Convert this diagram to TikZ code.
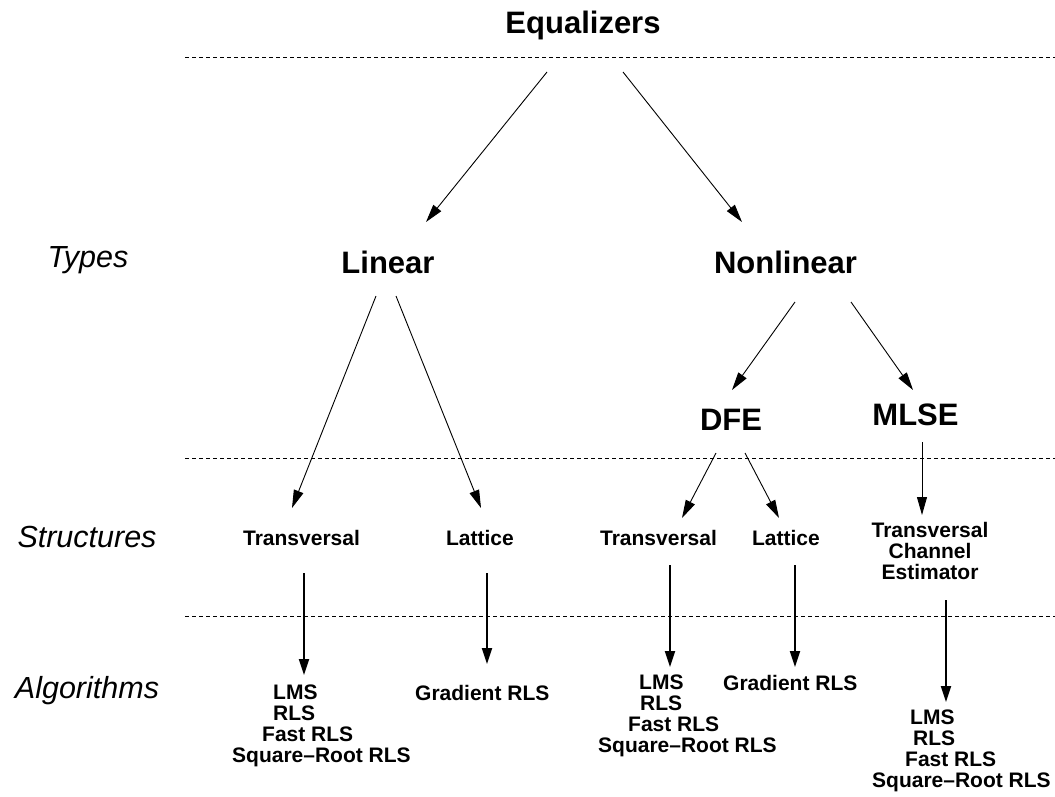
\documentclass[tikz,border=0pt]{standalone}
\usepackage{fontspec}
\setmainfont{Liberation Sans}
\usetikzlibrary{arrows.meta}
\begin{document}
\begin{tikzpicture}[x=1pt,y=-1pt,
  title/.style={font=\fontsize{31}{31}\selectfont\bfseries, inner sep=0pt, anchor=base},
  level/.style={font=\fontsize{30.5}{30.5}\selectfont\itshape, inner sep=0pt, anchor=base},
  struct/.style={font=\fontsize{21}{21}\selectfont\bfseries, inner sep=0pt, anchor=base},
  stack/.style={font=\fontsize{21}{21}\selectfont\bfseries, inner sep=0pt, align=center, anchor=north},
  alg/.style={font=\fontsize{21}{21}\selectfont\bfseries, inner sep=0pt, align=left, anchor=north west},
  sep/.style={dash pattern=on 4pt off 3pt, line width=1pt},
  arr/.style={line width=0.9pt, -{Triangle[length=18pt,width=10pt]}},
  barr/.style={line width=2pt, -{Triangle[length=16pt,width=10pt]}}]
\useasboundingbox (0,0) rectangle (1055,796);

% separators
\draw[sep] (185,57) -- (1055,57);
\draw[sep] (185,458) -- (1055,458);
\draw[sep] (185,616) -- (1055,616);

% level labels
\node[level] (types) at (88,267) {Types};
\node[level] (structures) at (87,547) {Structures};
\node[level] (algorithms) at (87,698) {Algorithms};

% types
\node[title] (eq) at (583,33) {Equalizers};
\node[title] (lin) at (388,273) {Linear};
\node[title] (nonlin) at (785.5,273) {Nonlinear};
\node[title] (dfe) at (731,430) {DFE};
\node[title] (mlse) at (915.5,425) {MLSE};

% structures
\node[struct] (tr1) at (301.5,545) {Transversal};
\node[struct] (lat1) at (480,545) {Lattice};
\node[struct] (tr2) at (658.5,545) {Transversal};
\node[struct] (lat2) at (786,545) {Lattice};
\node[stack] (tce) at (930,522) {Transversal\\Channel\\Estimator};

% algorithms
\node[alg] (alg1) at (232,685) {\hspace*{41pt}LMS\\\hspace*{41pt}RLS\\\hspace*{30pt}Fast RLS\\Square–Root RLS};
\node[struct, anchor=base west] (grad1) at (415,700) {Gradient RLS};
\node[alg] (alg2) at (598,675) {\hspace*{41pt}LMS\\\hspace*{42pt}RLS\\\hspace*{30pt}Fast RLS\\Square–Root RLS};
\node[struct, anchor=base west] (grad2) at (723,690) {Gradient RLS};
\node[alg] (alg3) at (872,710) {\hspace*{38pt}LMS\\\hspace*{41pt}RLS\\\hspace*{33pt}Fast RLS\\Square–Root RLS};

% connector ends
\coordinate (eqA) at (547,72);   \coordinate (linT) at (426,222);
\coordinate (eqB) at (623,72);   \coordinate (nonT) at (742,222);
\coordinate (linA) at (376,296); \coordinate (tr1T) at (292,508);
\coordinate (linB) at (396,296); \coordinate (lat1T) at (481,508);
\coordinate (nonA) at (795,302); \coordinate (dfeT) at (732,390);
\coordinate (nonB) at (851,302); \coordinate (mlseT) at (913,390);
\coordinate (dfeA) at (716,453); \coordinate (tr2T) at (682,518);
\coordinate (dfeB) at (745,453); \coordinate (lat2T) at (779,518);
\coordinate (mlseA) at (922,442); \coordinate (tceT) at (922,515);
\coordinate (tr1B) at (304,573); \coordinate (alg1T) at (304,675);
\coordinate (lat1B) at (487,573); \coordinate (grad1T) at (487,664);
\coordinate (tr2B) at (670,565); \coordinate (alg2T) at (670,667);
\coordinate (lat2B) at (795,565); \coordinate (grad2T) at (795,667);
\coordinate (tceB) at (946,600); \coordinate (alg3T) at (946,702);

\draw[arr] (eqA) -- (linT);
\draw[arr] (eqB) -- (nonT);
\draw[arr] (linA) -- (tr1T);
\draw[arr] (linB) -- (lat1T);
\draw[arr] (nonA) -- (dfeT);
\draw[arr] (nonB) -- (mlseT);
\draw[arr] (dfeA) -- (tr2T);
\draw[arr] (dfeB) -- (lat2T);
\draw[arr] (mlseA) -- (tceT);
\draw[barr] (tr1B) -- (alg1T);
\draw[barr] (lat1B) -- (grad1T);
\draw[barr] (tr2B) -- (alg2T);
\draw[barr] (lat2B) -- (grad2T);
\draw[barr] (tceB) -- (alg3T);
\end{tikzpicture}
\end{document}
